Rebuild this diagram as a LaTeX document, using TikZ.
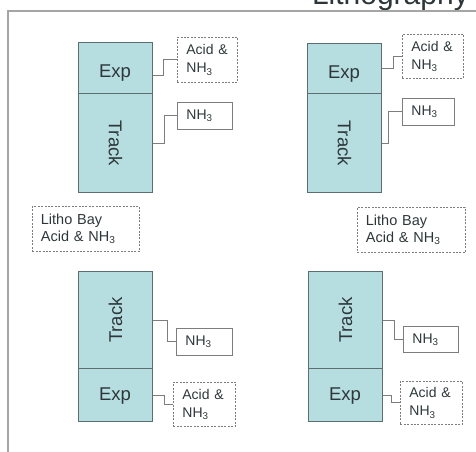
\documentclass[tikz,border=0pt]{standalone}
\usepackage{fontspec}
\setmainfont{Liberation Sans}
\definecolor{teal0}{RGB}{182,221,224}
\definecolor{edge0}{RGB}{92,110,112}
\definecolor{ink}{RGB}{45,55,58}
\definecolor{wire}{RGB}{125,125,125}
\definecolor{frame0}{RGB}{165,165,165}
\tikzset{
  unit/.style={draw=edge0, line width=1.2pt, fill=teal0, inner sep=0pt, anchor=north west, minimum width=74pt},
  utext/.style={text=ink, font=\fontsize{18.5}{22}\selectfont, inner sep=0pt},
  boxbase/.style={draw=wire, line width=0.8pt, anchor=north west, inner xsep=9pt, inner ysep=0pt,
     text=ink, font=\fontsize{14}{18}\selectfont, align=left},
  dbox/.style={boxbase, dash pattern=on 2pt off 1.4pt},
  sbox/.style={boxbase},
  lbox/.style={boxbase, dash pattern=on 2pt off 1.4pt, font=\fontsize{14.5}{16.5}\selectfont, inner xsep=8.5pt},
  wirel/.style={draw=wire, line width=0.9pt},
}
\begin{document}
\begin{tikzpicture}[x=1pt,y=-1pt]
\useasboundingbox (0,0) rectangle (476,451);
\clip (0,0) rectangle (476,451);

% partly visible title and frame
\node[anchor=base east, inner sep=0pt, text=ink, font=\fontsize{30}{36}\selectfont] (title) at (469,4.5) {Lithography};
\draw[frame0, line width=2pt] (8,460) -- (8,11) -- (480,11);

% ---- top left
\node[unit, minimum height=51pt] (e1) at (78,42) {};
\node[unit, minimum height=99pt] (t1) at (78,93) {};
\node[utext, anchor=base] (e1t) at (115,77) {Exp};
\node[utext, rotate=-90] (t1t) at (t1.center) {Track};
\node[dbox, minimum width=60pt, minimum height=45pt, text width=42pt] (a1) at (177,37) {Acid \&\\NH\textsubscript{3}};
\node[sbox, minimum width=55pt, minimum height=27pt, text width=37pt] (n1) at (177,102) {NH\textsubscript{3}};
\draw[wirel] ([yshift=-7pt]e1.east) -- ++(10,0) |- (a1.west);
\draw[wirel] (t1.east) -- ++(11,0) |- (n1.west);

% ---- top right
\node[unit, minimum height=50pt] (e2) at (307,43) {};
\node[unit, minimum height=99pt] (t2) at (307,93) {};
\node[utext, anchor=base] (e2t) at (344,78) {Exp};
\node[utext, rotate=-90] (t2t) at (t2.center) {Track};
\node[dbox, minimum width=61pt, minimum height=44pt, text width=43pt] (a2) at (402,34) {Acid \&\\NH\textsubscript{3}};
\node[sbox, minimum width=52pt, minimum height=27pt, text width=34pt] (n2) at (402,98) {NH\textsubscript{3}};
\draw[wirel] (e2.east) -- ++(11,0) |- (a2.west);
\draw[wirel] (t2.east) -- ++(6,0) |- (n2.west);

% ---- litho bay boxes
\node[lbox, minimum width=107pt, minimum height=45pt, text width=90pt] (l1) at (32,206) {Litho Bay\\Acid \& NH\textsubscript{3}};
\node[lbox, minimum width=108pt, minimum height=45pt, text width=91pt] (l2) at (357,207) {Litho Bay\\Acid \& NH\textsubscript{3}};

% ---- bottom left
\node[unit, minimum height=97pt] (t3) at (78,271) {};
\node[unit, minimum height=53pt] (e3) at (78,368) {};
\node[utext, rotate=90] (t3t) at (t3.center) {Track};
\node[utext, anchor=base] (e3t) at (115,400) {Exp};
\node[sbox, minimum width=56pt, minimum height=27pt, text width=38pt] (n3) at (176,328) {NH\textsubscript{3}};
\node[dbox, minimum width=62pt, minimum height=44pt, text width=44pt] (a3) at (173,382) {Acid \&\\NH\textsubscript{3}};
\draw[wirel] (t3.east) -- ++(14,0) |- (n3.west);
\draw[wirel] (e3.east) -- ++(11,0) |- (a3.west);

% ---- bottom right
\node[unit, minimum height=97pt] (t4) at (308,271) {};
\node[unit, minimum height=53pt] (e4) at (308,368) {};
\node[utext, rotate=90] (t4t) at (t4.center) {Track};
\node[utext, anchor=base] (e4t) at (345,400) {Exp};
\node[sbox, minimum width=55pt, minimum height=26pt, text width=37pt] (n4) at (403,326) {NH\textsubscript{3}};
\node[dbox, minimum width=62pt, minimum height=43pt, text width=44pt] (a4) at (400,381) {Acid \&\\NH\textsubscript{3}};
\draw[wirel] (t4.east) -- ++(11,0) |- (n4.west);
\draw[wirel] (e4.east) -- ++(8,0) |- (a4.west);
\end{tikzpicture}
\end{document}
